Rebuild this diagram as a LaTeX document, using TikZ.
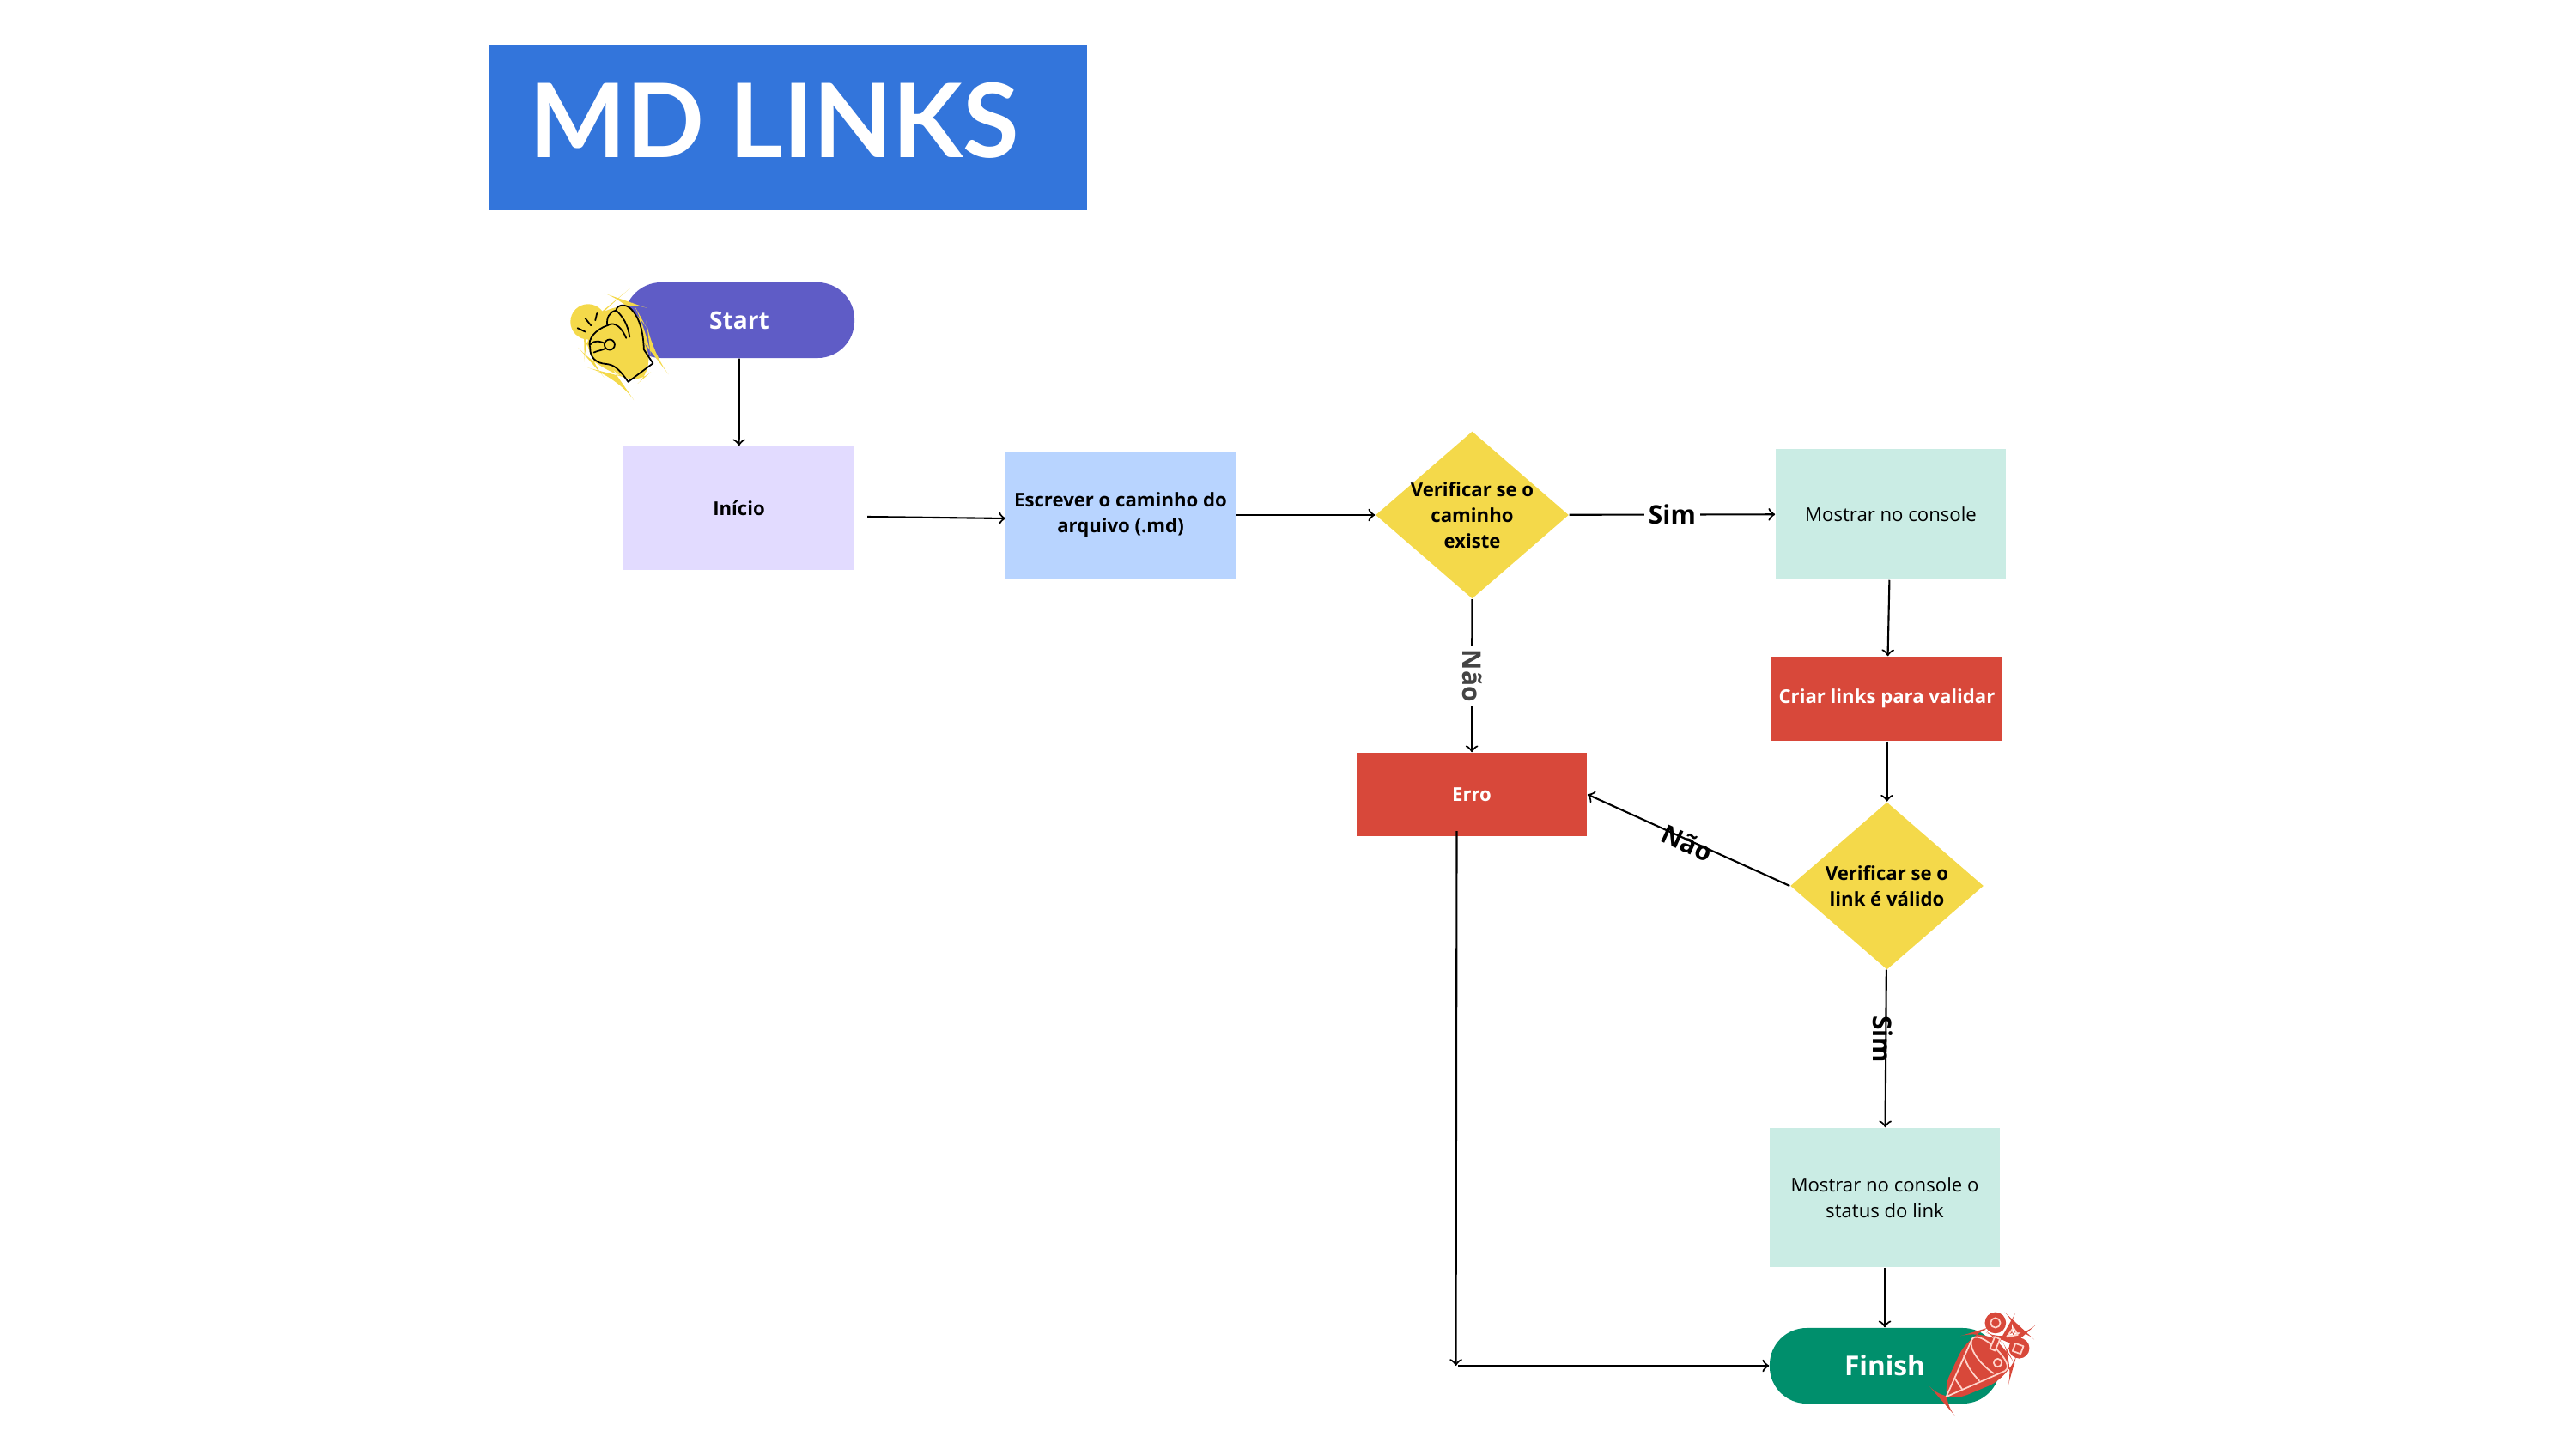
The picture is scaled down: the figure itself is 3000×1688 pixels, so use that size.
\documentclass[tikz,border=0pt]{standalone}
\usepackage{fontspec}
\setmainfont{Open Sans}
\newfontfamily\titlefont{Lato}
\usetikzlibrary{positioning,shapes.geometric}

\definecolor{azultitulo}{HTML}{3375DB}
\definecolor{roxo}{HTML}{5F5CC6}
\definecolor{lilas}{HTML}{E2DBFF}
\definecolor{azulclaro}{HTML}{B8D4FF}
\definecolor{amarelo}{HTML}{F4D94A}
\definecolor{menta}{HTML}{CAECE4}
\definecolor{vermelho}{HTML}{D8483A}
\definecolor{verde}{HTML}{008F6C}
\definecolor{rosa}{HTML}{FFD5CC}
\definecolor{cinza}{HTML}{444444}

\tikzset{
	caixa/.style={rectangle,minimum width=2.68cm,inner sep=0pt,align=center,font=\fontsize{6.3}{8.5}\selectfont},
	caixab/.style={caixa,font=\fontsize{6.3}{8.5}\selectfont\bfseries},
	pilula/.style={rectangle,rounded corners=0.43cm,minimum width=2.68cm,inner sep=0pt,text=white},
	losango/.style={diamond,fill=amarelo,minimum width=2.25cm,minimum height=1.95cm,aspect=1.15,inner sep=-3pt,align=center,font=\fontsize{6.3}{8.5}\selectfont\bfseries},
	fluxo/.style={->,line width=0.6pt},
	rotulo/.style={font=\fontsize{8.5}{10}\selectfont\bfseries,inner sep=1.5pt},
	traco/.style={draw=black,line width=0.5pt,line cap=round,line join=round},
	tracor/.style={draw=rosa,line width=0.5pt,line cap=round,line join=round},
}

\begin{document}
\begin{tikzpicture}[x=0.01cm,y=-0.01cm]

	\useasboundingbox (0,0) rectangle (3000,1688);

	\node[rectangle,fill=azultitulo,minimum width=6.96cm,minimum height=1.93cm,inner sep=0pt] (titulo) at (917.5,148.5) {};
	\node[text=white,inner sep=0pt,font=\titlefont\fontsize{34}{40}\selectfont\bfseries] (titulotexto) at (902,140) {MD LINKS};

	\node[pilula,fill=roxo,minimum height=0.88cm,font=\fontsize{8}{10}\selectfont\bfseries] (start) at (861,373) {Start};
	\node[caixab,fill=lilas,minimum height=1.44cm] (inicio) at (860.5,592) {Início};
	\node[caixab,fill=azulclaro,minimum height=1.48cm] (escrever) at (1305,600) {Escrever o caminho do\\arquivo (.md)};
	\node[losango] (caminho) at (1714.5,600) {Verificar se o\\caminho\\existe};
	\node[caixa,fill=menta,minimum height=1.52cm] (console) at (2202,599) {Mostrar no console};
	\node[caixab,fill=vermelho,text=white,minimum height=0.98cm] (criar) at (2197.5,814) {Criar links para validar};
	\node[caixab,fill=vermelho,text=white,minimum height=0.97cm] (erro) at (1714,925.5) {Erro};
	\node[losango] (valido) at (2197.5,1032) {Verificar se o\\link é válido};
	\node[caixa,fill=menta,minimum height=1.62cm] (status) at (2195,1395) {Mostrar no console o\\status do link};
	\node[pilula,fill=verde,minimum height=0.88cm,font=\fontsize{9}{10}\selectfont\bfseries] (finish) at (2195,1591) {Finish};

	\coordinate (inicioout) at (1010,602);
	\coordinate (escreverin) at (1171,604);
	\coordinate (erroout) at (1696.5,968);
	\coordinate (canto) at (1695.5,1591);
	\coordinate (cantoout) at (1698,1591);

	\draw[fluxo] (start) -- (inicio);
	\draw[fluxo] (inicioout) -- (escreverin);
	\draw[fluxo] (escrever) -- (caminho);
	\draw[fluxo] (caminho) -- node[rotulo,fill=white] {Sim} (console);
	\draw[fluxo] (caminho) -- node[rotulo,fill=white,text=cinza,rotate=-90] {Não} (erro);
	\draw[fluxo] (console) -- (criar);
	\draw[fluxo] (criar) -- (valido);
	\draw[fluxo] (valido.west) -- node[rotulo,rotate=-24,yshift=-1pt] {Não} (erro.east);
	\draw[fluxo] (valido) -- node[rotulo,pos=.44,rotate=-90,yshift=-1pt] {Sim} (status);
	\draw[fluxo] (status) -- (finish);
	\draw[fluxo] (erroout) -- (canto);
	\draw[fluxo] (cantoout) -- (finish.west);

	\begin{scope}[shift={(650,320)},x=0.00333cm,y=-0.00333cm]
		\fill[amarelo] (105,165) circle (62);
		\fill[amarelo,rounded corners=10pt] (210,82) -- (262,100) -- (312,190) -- (322,265) -- (358,312) -- (245,410) -- (205,352) -- (140,335) -- (92,280) -- (90,200) -- (170,115) -- cycle;
		\draw[traco] (68,187) -- (95,200) (95,153) -- (115,178) (136,135) -- (130,160);
		\draw[traco] (332,310) -- (300,262) .. controls (298,200) and (285,150) .. (255,120) .. controls (235,100) and (205,105) .. (203,125) .. controls (180,130) and (168,150) .. (172,178) .. controls (135,190) and (100,225) .. (112,255) .. controls (110,290) and (135,310) .. (165,312) .. controls (195,315) and (210,325) .. (245,375) -- cycle;
		\draw[traco] (203,125) .. controls (225,145) and (245,175) .. (250,218);
		\draw[traco] (172,178) .. controls (200,160) and (225,190) .. (238,222);
		\draw[traco] (180,245) circle (18);
		\draw[traco] (112,245) .. controls (130,225) and (150,235) .. (163,240);
		\draw[traco] (125,272) .. controls (140,265) and (155,265) .. (165,258);
	\end{scope}

	\begin{scope}[shift={(2230,1500)},x=0.00333cm,y=-0.00333cm]
		\fill[vermelho,rounded corners=8pt] (85,385) -- (105,408) -- (335,312) -- (348,265) -- (310,195) -- (240,145) -- (190,160) -- cycle;
		\fill[vermelho] (282,123) circle (37);
		\fill[vermelho] (365,212) circle (36);
		\fill[vermelho,rounded corners=10pt] (340,110) -- (392,158) -- (345,200) -- (300,180) -- cycle;
		\draw[tracor] (110,382) -- (198,185) .. controls (205,160) and (245,175) .. (285,215) .. controls (320,250) and (335,280) .. (315,292) -- cycle;
		\draw[tracor] (198,185) .. controls (190,215) and (225,265) .. (275,300);
		\draw[tracor] (172,238) .. controls (180,270) and (200,300) .. (225,325);
		\draw[tracor] (140,318) -- (165,355);
		\draw[tracor] (290,263) circle (14);
		\draw[tracor] (282,123) circle (17);
		\draw[tracor,fill=vermelho] (263,213) -- (280,172) -- (298,180) -- (281,221) -- cycle;
		\draw[tracor] (345,140) -- (360,165) -- (322,172) -- cycle;
		\draw[tracor] (352,195) -- (380,205) -- (370,232) -- (342,222) -- cycle;
	\end{scope}

\end{tikzpicture}
\end{document}
